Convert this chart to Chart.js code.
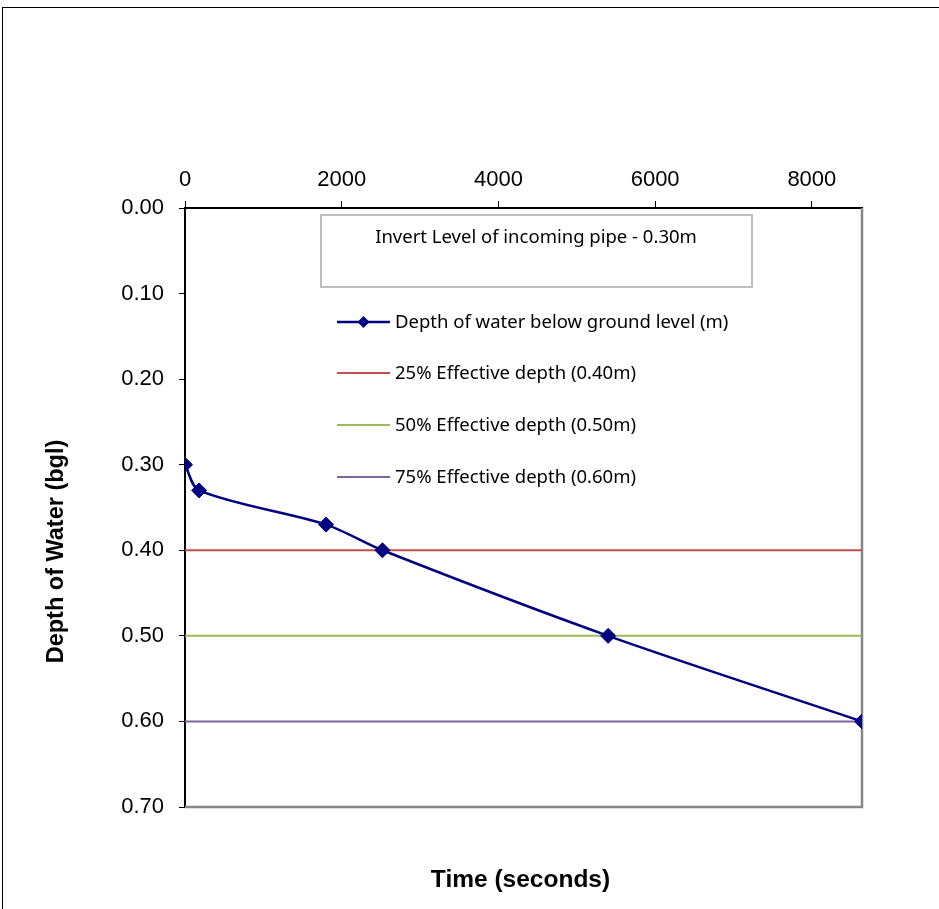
<!DOCTYPE html>
<html>
<head>
<meta charset="utf-8">
<script src="https://cdn.jsdelivr.net/npm/chart.js@4/dist/chart.umd.min.js"></script>
<style>
  html, body { margin: 0; padding: 0; background: #fff; overflow: hidden; }
  #frame { position: absolute; left: 2px; top: 7px; width: 1200px; height: 1200px; border-left: 1px solid #000; border-top: 1px solid #000; }
  #wrap { position: absolute; left: 0; top: 0; width: 939px; height: 909px; }
</style>
</head>
<body>
<div id="frame"></div>
<div id="wrap"><canvas id="c" width="939" height="909"></canvas></div>
<script>
// ---- data ----
const timeSec = [0, 180, 1800, 2520, 5400, 8640];
const depthM = [0.30, 0.33, 0.37, 0.40, 0.50, 0.60];
const seriesLabel = 'Depth of water below ground level (m)';
const levelLabels = ['25% Effective depth (0.40m)', '50% Effective depth (0.50m)', '75% Effective depth (0.60m)'];
const levelDepths = [0.40, 0.50, 0.60];
const levelColors = ['#C0504D', '#9BBB59', '#8064A2'];
const timeRange = [0, 8640];
const xTickValues = [0, 2000, 4000, 6000, 8000];
const yTickValues = [0.00, 0.10, 0.20, 0.30, 0.40, 0.50, 0.60, 0.70];
const noteText = 'Invert Level of incoming pipe - 0.30m';
const xTitle = 'Time (seconds)';
const yTitle = 'Depth of Water (bgl)';

const AX_FONT = '"Liberation Sans", Arial, sans-serif';
const LG_FONT = '"Noto Sans", "Open Sans", sans-serif';

const datasets = [{
  label: seriesLabel,
  data: timeSec.map((t, i) => ({ x: t, y: depthM[i] })),
  borderColor: '#000080',
  backgroundColor: '#000080',
  borderWidth: 2.5,
  pointStyle: 'rectRot',
  pointRadius: 7.5,
  pointBorderWidth: 1,
  tension: 0.3,
  showLine: true
}];
levelDepths.forEach((d, i) => {
  datasets.push({
    label: levelLabels[i],
    data: timeRange.map(t => ({ x: t, y: d })),
    borderColor: levelColors[i],
    backgroundColor: levelColors[i],
    borderWidth: 2,
    pointRadius: 0,
    showLine: true
  });
});

const overlay = {
  id: 'overlay',
  beforeDatasetsDraw(chart) {
    const { ctx, chartArea: a } = chart;
    ctx.save();
    ctx.strokeStyle = '#868686';
    ctx.lineWidth = 2.5;
    ctx.beginPath();
    ctx.moveTo(a.right, a.top);
    ctx.lineTo(a.right, a.bottom);
    ctx.lineTo(a.left, a.bottom);
    ctx.stroke();
    ctx.restore();
  },
  afterDraw(chart) {
    const { ctx, chartArea: a } = chart;
    ctx.save();
    // note box
    ctx.strokeStyle = '#BFBFBF';
    ctx.lineWidth = 2;
    ctx.strokeRect(a.left + 136, a.top + 7, 431, 72);
    ctx.fillStyle = '#000';
    ctx.font = '18.5px ' + LG_FONT;
    ctx.textAlign = 'center';
    ctx.textBaseline = 'middle';
    ctx.fillText(noteText, a.left + 351, a.top + 30);
    // legend
    const ds = chart.data.datasets;
    const rowY = [322, 373, 425, 477];
    ctx.textAlign = 'left';
    ds.forEach((d, i) => {
      const y = rowY[i];
      ctx.strokeStyle = d.borderColor;
      ctx.lineWidth = i === 0 ? 2.5 : 2;
      ctx.beginPath();
      ctx.moveTo(337, y);
      ctx.lineTo(390, y);
      ctx.stroke();
      if (i === 0) {
        ctx.fillStyle = d.backgroundColor;
        ctx.beginPath();
        ctx.moveTo(363.5, y - 6);
        ctx.lineTo(369.5, y);
        ctx.lineTo(363.5, y + 6);
        ctx.lineTo(357.5, y);
        ctx.closePath();
        ctx.fill();
      }
      ctx.fillStyle = '#000';
      ctx.fillText(d.label, 395, y + 1);
    });
    // axis titles
    ctx.font = 'bold 24.5px ' + AX_FONT;
    ctx.textAlign = 'center';
    ctx.textBaseline = 'middle';
    ctx.fillText(xTitle, (a.left + a.right) / 2 - 3, a.bottom + 73);
    ctx.font = 'bold 23.5px ' + AX_FONT;
    ctx.translate(57, (a.top + a.bottom) / 2 + 44);
    ctx.rotate(-Math.PI / 2);
    ctx.fillText(yTitle, 0, 0);
    ctx.restore();
  }
};

new Chart(document.getElementById('c'), {
  type: 'scatter',
  data: { datasets },
  plugins: [overlay],
  options: {
    responsive: false,
    animation: false,
    events: [],
    layout: { padding: { left: 0, right: 77, top: 0, bottom: 102 } },
    plugins: { legend: { display: false }, tooltip: { enabled: false }, title: { display: false } },
    scales: {
      x: {
        type: 'linear',
        position: 'top',
        min: timeRange[0],
        max: timeRange[1],
        afterBuildTicks: s => { s.ticks = xTickValues.map(v => ({ value: v })); },
        afterFit: s => { s.height = 208; },
        grid: { display: true, drawOnChartArea: false, drawTicks: true, tickLength: 7, tickColor: '#000', lineWidth: 1 },
        border: { display: true, color: '#000', width: 2 },
        ticks: { color: '#000', font: { family: AX_FONT, size: 22 }, padding: 8, maxRotation: 0, autoSkip: false, callback: v => String(v) }
      },
      y: {
        type: 'linear',
        position: 'left',
        reverse: true,
        min: 0,
        max: 0.7,
        afterBuildTicks: s => { s.ticks = yTickValues.map(v => ({ value: v })); },
        afterFit: s => { s.width = 185; },
        grid: { display: true, drawOnChartArea: false, drawTicks: true, tickLength: 6, tickColor: '#000', lineWidth: 1 },
        border: { display: true, color: '#000', width: 2 },
        ticks: { color: '#000', font: { family: AX_FONT, size: 22 }, padding: 15, autoSkip: false, callback: v => Number(v).toFixed(2) }
      }
    }
  }
});
</script>
</body>
</html>
